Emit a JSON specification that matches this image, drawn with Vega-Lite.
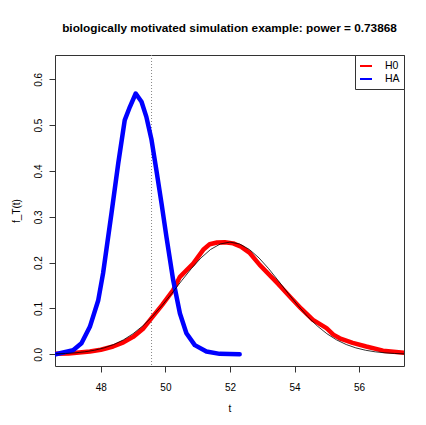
{
  "$schema": "https://vega.github.io/schema/vega-lite/v6.json",
  "autosize": {"type": "none"},
  "width": 349,
  "height": 311,
  "padding": {"left": 55, "top": 55, "right": 22, "bottom": 59},
  "background": "white",
  "title": {"text": "biologically motivated simulation example: power = 0.73868", "font": "Liberation Sans", "fontSize": 11.8, "fontWeight": "bold", "color": "black", "anchor": "middle", "offset": 20},
  "config": {
    "view": {"stroke": "#333", "strokeWidth": 1},
    "font": "Liberation Sans",
    "axis": {"domain": false, "grid": false, "tickColor": "#333", "tickSize": 6, "labelFont": "Liberation Sans", "labelFontSize": 10, "labelColor": "black", "titleFont": "Liberation Sans", "titleFontSize": 10, "titleFontWeight": "normal", "titleColor": "black"}
  },
  "datasets": {
    "kde": [
      {"g": "H0", "t": 46.6, "f": 0.001},
      {"g": "H0", "t": 47.0, "f": 0.002},
      {"g": "H0", "t": 47.66, "f": 0.006},
      {"g": "H0", "t": 48.0, "f": 0.010},
      {"g": "H0", "t": 48.38, "f": 0.017},
      {"g": "H0", "t": 48.7, "f": 0.026},
      {"g": "H0", "t": 49.0, "f": 0.038},
      {"g": "H0", "t": 49.3, "f": 0.055},
      {"g": "H0", "t": 49.57, "f": 0.079},
      {"g": "H0", "t": 49.9, "f": 0.108},
      {"g": "H0", "t": 50.24, "f": 0.140},
      {"g": "H0", "t": 50.45, "f": 0.169},
      {"g": "H0", "t": 50.65, "f": 0.183},
      {"g": "H0", "t": 50.86, "f": 0.198},
      {"g": "H0", "t": 51.17, "f": 0.228},
      {"g": "H0", "t": 51.37, "f": 0.240},
      {"g": "H0", "t": 51.6, "f": 0.244},
      {"g": "H0", "t": 51.84, "f": 0.2445},
      {"g": "H0", "t": 52.1, "f": 0.242},
      {"g": "H0", "t": 52.36, "f": 0.234},
      {"g": "H0", "t": 52.6, "f": 0.222},
      {"g": "H0", "t": 52.92, "f": 0.195},
      {"g": "H0", "t": 53.13, "f": 0.180},
      {"g": "H0", "t": 53.5, "f": 0.153},
      {"g": "H0", "t": 53.85, "f": 0.126},
      {"g": "H0", "t": 54.2, "f": 0.100},
      {"g": "H0", "t": 54.57, "f": 0.075},
      {"g": "H0", "t": 54.99, "f": 0.057},
      {"g": "H0", "t": 55.2, "f": 0.043},
      {"g": "H0", "t": 55.4, "f": 0.035},
      {"g": "H0", "t": 55.8, "f": 0.025},
      {"g": "H0", "t": 56.22, "f": 0.017},
      {"g": "H0", "t": 56.74, "f": 0.008},
      {"g": "H0", "t": 57.41, "f": 0.0035},
      {"g": "HA", "t": 46.6, "f": 0.0},
      {"g": "HA", "t": 47.14, "f": 0.009},
      {"g": "HA", "t": 47.4, "f": 0.024},
      {"g": "HA", "t": 47.66, "f": 0.060},
      {"g": "HA", "t": 47.92, "f": 0.118},
      {"g": "HA", "t": 48.07, "f": 0.177},
      {"g": "HA", "t": 48.33, "f": 0.308},
      {"g": "HA", "t": 48.54, "f": 0.417},
      {"g": "HA", "t": 48.74, "f": 0.511},
      {"g": "HA", "t": 48.9, "f": 0.540},
      {"g": "HA", "t": 49.08, "f": 0.569},
      {"g": "HA", "t": 49.26, "f": 0.551},
      {"g": "HA", "t": 49.41, "f": 0.518},
      {"g": "HA", "t": 49.57, "f": 0.468},
      {"g": "HA", "t": 49.72, "f": 0.402},
      {"g": "HA", "t": 49.88, "f": 0.329},
      {"g": "HA", "t": 50.03, "f": 0.257},
      {"g": "HA", "t": 50.24, "f": 0.162},
      {"g": "HA", "t": 50.45, "f": 0.089},
      {"g": "HA", "t": 50.65, "f": 0.046},
      {"g": "HA", "t": 50.91, "f": 0.020},
      {"g": "HA", "t": 51.27, "f": 0.006},
      {"g": "HA", "t": 51.68, "f": 0.001},
      {"g": "HA", "t": 52.3, "f": 0.0}
    ],
    "norm": [
      {"t": 46.6, "f": 0.00101},
      {"t": 46.9, "f": 0.00183},
      {"t": 47.2, "f": 0.0032},
      {"t": 47.5, "f": 0.00541},
      {"t": 47.8, "f": 0.00884},
      {"t": 48.1, "f": 0.01397},
      {"t": 48.4, "f": 0.02136},
      {"t": 48.7, "f": 0.0315},
      {"t": 49.0, "f": 0.045},
      {"t": 49.3, "f": 0.0621},
      {"t": 49.6, "f": 0.0828},
      {"t": 49.9, "f": 0.1068},
      {"t": 50.2, "f": 0.133},
      {"t": 50.5, "f": 0.1603},
      {"t": 50.8, "f": 0.1867},
      {"t": 51.1, "f": 0.2102},
      {"t": 51.4, "f": 0.2288},
      {"t": 51.7, "f": 0.2407},
      {"t": 52.0, "f": 0.2448},
      {"t": 52.3, "f": 0.2407},
      {"t": 52.6, "f": 0.2288},
      {"t": 52.9, "f": 0.2102},
      {"t": 53.2, "f": 0.1867},
      {"t": 53.5, "f": 0.1603},
      {"t": 53.8, "f": 0.133},
      {"t": 54.1, "f": 0.1068},
      {"t": 54.4, "f": 0.0828},
      {"t": 54.7, "f": 0.0621},
      {"t": 55.0, "f": 0.045},
      {"t": 55.3, "f": 0.0315},
      {"t": 55.6, "f": 0.02136},
      {"t": 55.9, "f": 0.01397},
      {"t": 56.2, "f": 0.00884},
      {"t": 56.5, "f": 0.00541},
      {"t": 56.8, "f": 0.0032},
      {"t": 57.1, "f": 0.00183},
      {"t": 57.4, "f": 0.00101}
    ],
    "cut": [{"t": 49.57}]
  },
  "layer": [
    {
      "data": {"name": "cut"},
      "mark": {"type": "rule", "color": "#888", "strokeWidth": 1, "strokeDash": [1, 2]},
      "encoding": {"x": {"field": "t", "type": "quantitative"}}
    },
    {
      "data": {"name": "kde"},
      "mark": {"type": "line", "strokeWidth": 4.5, "clip": true, "strokeJoin": "round", "strokeCap": "round"},
      "encoding": {
        "x": {"field": "t", "type": "quantitative", "scale": {"domain": [46.58, 57.39], "nice": false, "zero": false},
          "axis": {"values": [48, 50, 52, 54, 56], "title": "t", "labelPadding": 10, "titlePadding": 11}},
        "y": {"field": "f", "type": "quantitative", "scale": {"domain": [-0.0255, 0.653], "nice": false, "zero": false},
          "axis": {"values": [0, 0.1, 0.2, 0.3, 0.4, 0.5, 0.6], "format": ".1f", "title": "f_T(t)", "labelAngle": -90, "labelAlign": "center", "labelBaseline": "bottom", "labelPadding": 6, "titlePadding": 12}},
        "color": {"field": "g", "type": "nominal", "scale": {"domain": ["H0", "HA"], "range": ["#ff0000", "#0000ff"]},
          "legend": {"title": null, "orient": "top-right", "offset": 0, "strokeColor": "#333", "fillColor": "white", "padding": 4, "symbolType": "stroke", "symbolStrokeWidth": 2, "symbolSize": 144, "labelFontSize": 10.5, "labelOffset": 12, "rowPadding": 0, "labelFont": "Liberation Sans"}}
      }
    },
    {
      "data": {"name": "norm"},
      "mark": {"type": "line", "color": "black", "strokeWidth": 0.8, "clip": true},
      "encoding": {
        "x": {"field": "t", "type": "quantitative"},
        "y": {"field": "f", "type": "quantitative"}
      }
    }
  ]
}
